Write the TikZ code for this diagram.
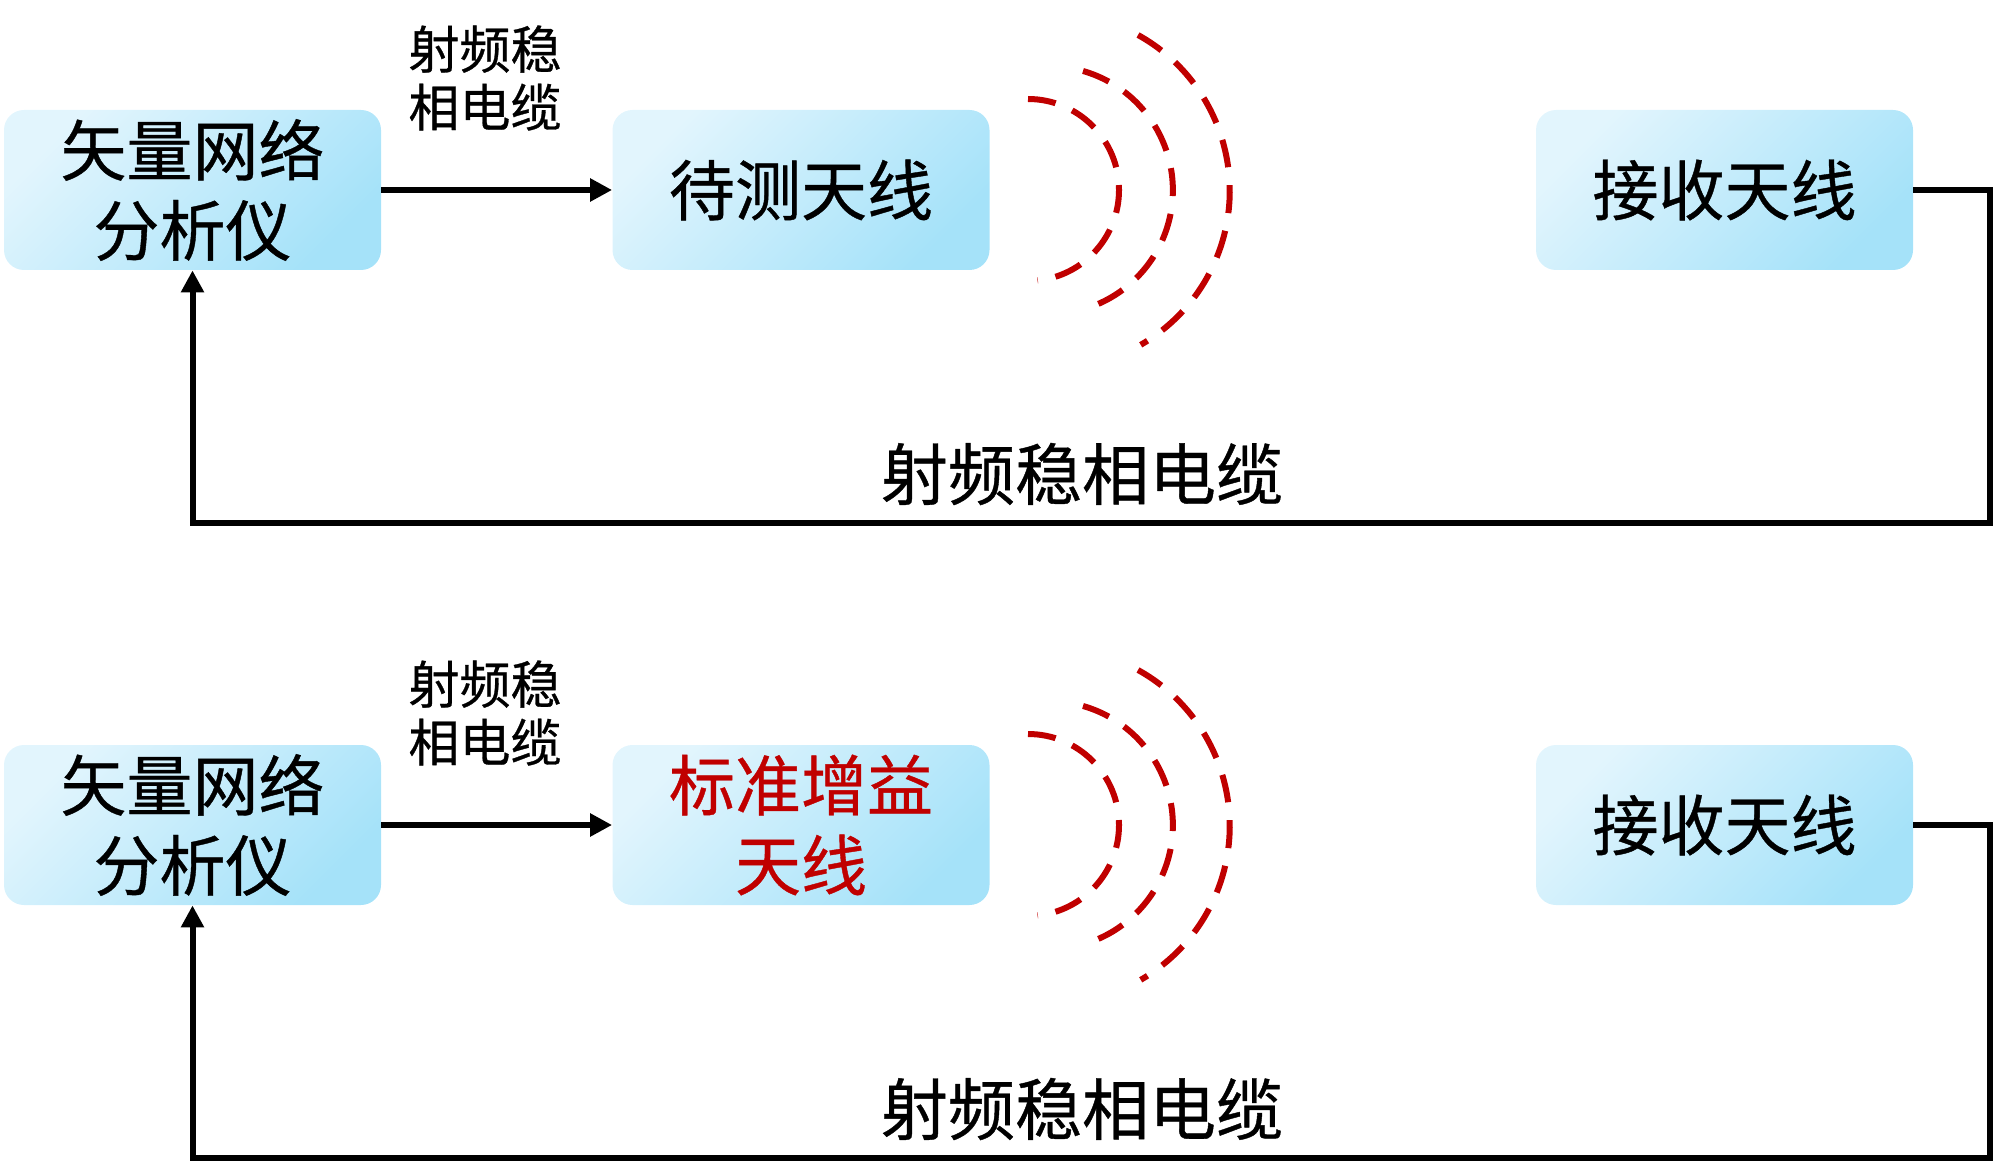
\documentclass[tikz,border=0pt]{standalone}
\usepackage{fontspec}
\setmainfont{Noto Sans CJK SC}
\newfontfamily\semibold{Noto Sans CJK SC}[FakeBold=0.6]
\usetikzlibrary{arrows.meta}
\definecolor{boxA}{HTML}{E2F5FD}
\definecolor{boxB}{HTML}{A5E2F9}
\definecolor{wavered}{HTML}{C00000}
\begin{document}
\begin{tikzpicture}[x=0.5pt,y=-0.5pt,
  box/.style={rounded corners=10pt, minimum width=188.5pt, minimum height=80pt,
    align=center, inner sep=0pt, font=\semibold\fontsize{33}{40}\selectfont,
    top color=boxA, bottom color=boxB, shading angle=45},
  lbl/.style={align=center, inner sep=0pt, font=\semibold\fontsize{25.5}{29}\selectfont},
  biglbl/.style={inner sep=0pt, font=\semibold\fontsize{33.5}{40}\selectfont},
  conn/.style={line width=3pt, -{Triangle[length=11pt,width=11pt]}},
  wave/.style={wavered, line width=3pt, dash pattern=on 14pt off 9pt}]
\useasboundingbox (0,0) rectangle (2000,1171);
% top panel
\node[box] (vna1) at (192.5,190) {矢量网络\\分析仪};
\node[box] (dut) at (801,190) {待测天线};
\node[box] (rx1) at (1724.5,190) {接收天线};
\node[lbl] (c1) at (485,78) {射频稳\\相电缆};
\node[biglbl] (c2) at (1082,474) {射频稳相电缆};
\coordinate (k1) at (1990,523);
\draw[conn] (vna1.east) -- (dut.west);
\draw[conn] (rx1.east) -| (k1) -| (vna1.south);
\draw[wave] (1028,99) arc[start angle=90, end angle=-84, radius=45.5pt];
\draw[wave] (1083,71) arc[start angle=74, end angle=-70, radius=62pt];
\draw[wave] (1138,35) arc[start angle=61, end angle=-60, radius=89pt];
% bottom panel
\node[box] (vna2) at (192.5,825) {矢量网络\\分析仪};
\node[box, text=wavered] (std) at (801,825) {标准增益\\天线};
\node[box] (rx2) at (1724.5,825) {接收天线};
\node[lbl] (c3) at (485,713) {射频稳\\相电缆};
\node[biglbl] (c4) at (1082,1109) {射频稳相电缆};
\coordinate (k2) at (1990,1158);
\draw[conn] (vna2.east) -- (std.west);
\draw[conn] (rx2.east) -| (k2) -| (vna2.south);
\draw[wave] (1028,734) arc[start angle=90, end angle=-84, radius=45.5pt];
\draw[wave] (1083,706) arc[start angle=74, end angle=-70, radius=62pt];
\draw[wave] (1138,670) arc[start angle=61, end angle=-60, radius=89pt];
\end{tikzpicture}
\end{document}
